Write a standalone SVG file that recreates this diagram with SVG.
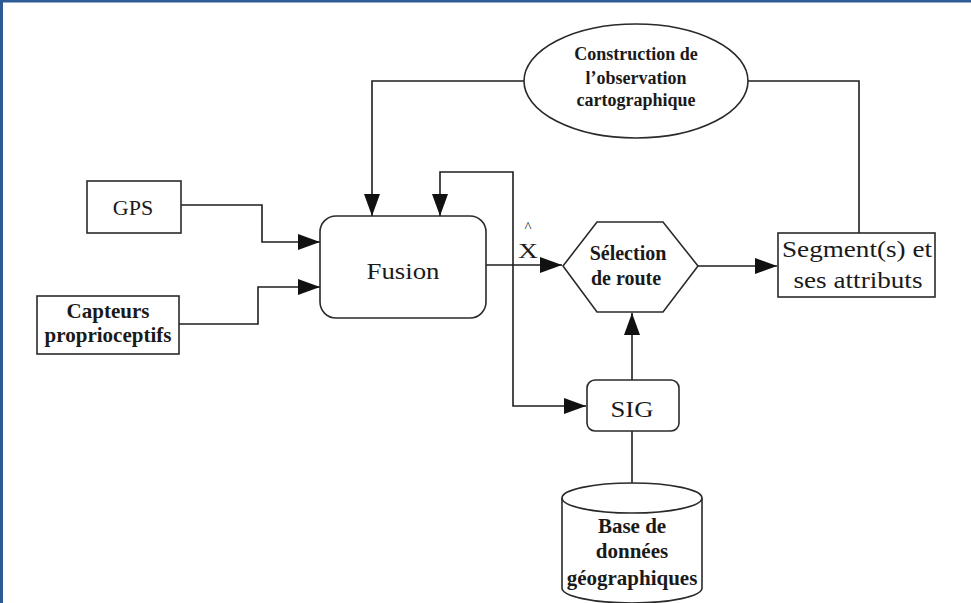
<svg xmlns="http://www.w3.org/2000/svg" width="971" height="603" viewBox="0 0 971 603">
<style>
.box{fill:#fff;stroke:#2a2a2a;stroke-width:1.6}
.ln{fill:none;stroke:#1e1e1e;stroke-width:1.6}
.r{font-family:"Liberation Serif","Times New Roman",serif;fill:#1a1a1a;text-anchor:middle}
.b{font-family:"Liberation Serif","Times New Roman",serif;font-weight:bold;fill:#1a1a1a;text-anchor:middle}
</style>
<defs>
<marker id="ah" markerUnits="userSpaceOnUse" markerWidth="24" markerHeight="18" refX="22" refY="8" orient="auto">
<path d="M0,0 L22,8 L0,16 Z" fill="#111"/>
</marker>
</defs>
<rect x="0" y="0" width="971" height="603" fill="#fff"/>
<path d="M1.5,603 V1 H971" fill="none" stroke="#2f5b94" stroke-width="3"/>

<g id="connectors">
<path class="ln" d="M181,205 H262 V242 H320" marker-end="url(#ah)"/>
<path class="ln" d="M179,324 H258 V287 H320" marker-end="url(#ah)"/>
<path class="ln" d="M524,81 H372 V216" marker-end="url(#ah)"/>
<path class="ln" d="M486,265 H562" marker-end="url(#ah)"/>
<path class="ln" d="M513,265 V172 H440 V216" marker-end="url(#ah)"/>
<path class="ln" d="M513,265 V406 H586" marker-end="url(#ah)"/>
<path class="ln" d="M698,266 H777" marker-end="url(#ah)"/>
<path class="ln" d="M632,380 V313" marker-end="url(#ah)"/>
<path class="ln" d="M859,233 V81 H748"/>
<path class="ln" d="M632,431 V499"/>
</g>

<g id="construction">
<ellipse class="box" cx="636" cy="81" rx="112" ry="57"/>
<text class="b" x="636" y="60" font-size="18">Construction de</text>
<text class="b" x="636" y="84" font-size="18">l’observation</text>
<text class="b" x="636" y="106" font-size="18">cartographique</text>
</g>

<g id="gps">
<rect class="box" x="87" y="181" width="94" height="52"/>
<text class="r" x="133" y="215" font-size="22">GPS</text>
</g>

<g id="capteurs">
<rect class="box" x="37" y="296" width="142" height="58"/>
<text class="b" x="108" y="318" font-size="21">Capteurs</text>
<text class="b" x="108" y="342" font-size="21">proprioceptifs</text>
</g>

<g id="fusion">
<rect class="box" x="320" y="216" width="166" height="102" rx="16" ry="16"/>
<text class="r" x="403" y="279" font-size="24" textLength="73" lengthAdjust="spacingAndGlyphs">Fusion</text>
</g>

<g id="xhat">
<text class="r" x="528" y="232" font-size="15">^</text>
<text class="r" x="528" y="258" font-size="21" textLength="20" lengthAdjust="spacingAndGlyphs">X</text>
</g>

<g id="selection">
<polygon class="box" points="563,266 597,222 663,222 698,266 663,312 597,312"/>
<text class="b" x="628" y="260" font-size="20">Sélection</text>
<text class="b" x="626" y="285" font-size="20">de route</text>
</g>

<g id="segment">
<rect class="box" x="778" y="233" width="157" height="64"/>
<text class="r" x="857" y="257" font-size="24" textLength="150" lengthAdjust="spacingAndGlyphs">Segment(s) et</text>
<text class="r" x="858" y="288" font-size="24" textLength="129" lengthAdjust="spacingAndGlyphs">ses attributs</text>
</g>

<g id="sig">
<rect class="box" x="587" y="380" width="92" height="51" rx="8" ry="8"/>
<text class="r" x="632" y="417" font-size="24" textLength="43" lengthAdjust="spacingAndGlyphs">SIG</text>
</g>

<g id="base">
<path class="box" d="M562,498 V588 A70,15 0 0 0 702,588 V498"/>
<ellipse class="box" cx="632" cy="498" rx="70" ry="15"/>
<text class="b" x="632" y="533" font-size="21">Base de</text>
<text class="b" x="632" y="558" font-size="21">données</text>
<text class="b" x="632" y="585" font-size="21">géographiques</text>
</g>
</svg>
